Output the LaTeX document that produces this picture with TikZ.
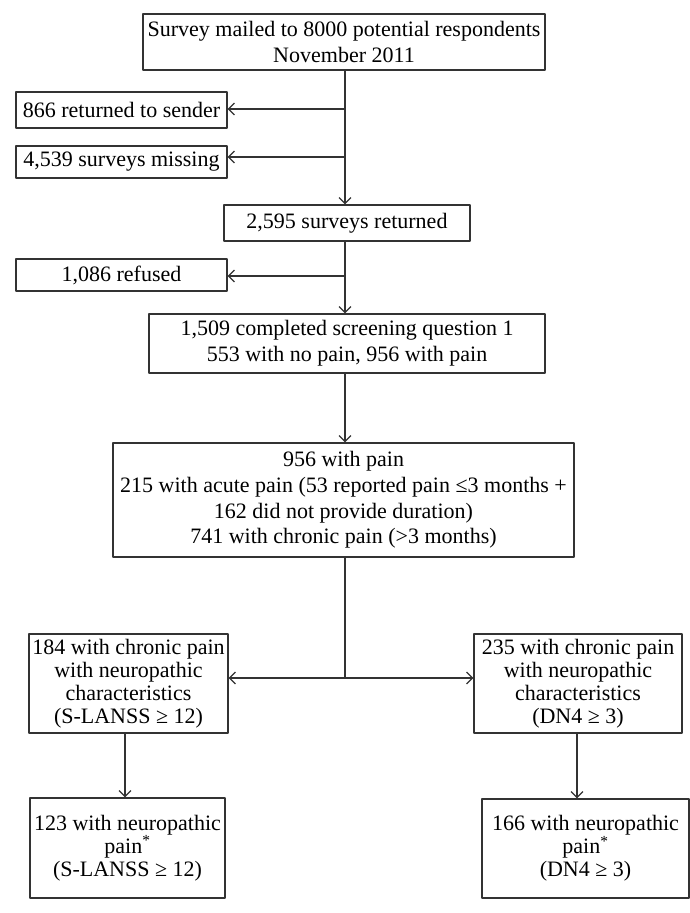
\documentclass[tikz,border=0pt]{standalone}
\usepackage{fontspec}
\setmainfont{Liberation Serif}
\usetikzlibrary{arrows.meta}
\definecolor{linegray}{rgb}{0.2,0.2,0.2}
\tikzset{
	box/.style={draw=linegray,line width=1.2pt,align=center,inner sep=0pt,font=\fontsize{22}{25.7}\selectfont},
	smallbox/.style={box,font=\fontsize{22}{23}\selectfont},
	arr/.style={-{Straight Barb[length=6pt,width=12pt]},line width=1.2pt,color=linegray}
}

\begin{document}
\begin{tikzpicture}[line cap=round,line join=round,x=1pt,y=-1pt]
	\useasboundingbox (0,0) rectangle (690,913);

	\node[box,minimum width=402pt,minimum height=56pt] (mailed) at (344,42) {Survey mailed to 8000 potential respondents\\November 2011};
	\node[box,minimum width=211pt,minimum height=36pt] (sender) at (121.5,110) {866 returned to sender};
	\node[box,minimum width=211pt,minimum height=32pt] (missing) at (121.5,162) {4,539 surveys missing};
	\node[box,minimum width=246pt,minimum height=36pt] (returned) at (347,223) {2,595 surveys returned};
	\node[box,minimum width=211pt,minimum height=32pt] (refused) at (121.5,275) {1,086 refused};
	\node[box,minimum width=396pt,minimum height=59pt] (screened) at (347,343.5) {1,509 completed screening question 1\\553 with no pain, 956 with pain};
	\node[box,minimum width=461pt,minimum height=114pt] (withpain) at (343.5,500) {956 with pain\\215 with acute pain (53 reported pain ≤3 months +\\162 did not provide duration)\\741 with chronic pain (>3 months)};

	\node[smallbox,minimum width=199pt,minimum height=99pt] (lanss) at (128.5,683.5) {184 with chronic pain\\with neuropathic\\characteristics\\(S-LANSS ≥ 12)};
	\node[smallbox,minimum width=208pt,minimum height=99pt] (dnfour) at (578,683.5) {235 with chronic pain\\with neuropathic\\characteristics\\(DN4 ≥ 3)};
	\node[smallbox,minimum width=195pt,minimum height=100pt] (lanssnp) at (127.5,848) {123 with neuropathic\\pain\textsuperscript{*}\\(S-LANSS ≥ 12)};
	\node[smallbox,minimum width=207pt,minimum height=99pt] (dnfournp) at (585.5,848.5) {166 with neuropathic\\pain\textsuperscript{*}\\(DN4 ≥ 3)};

	% main line
	\coordinate (j1) at (345,109);
	\coordinate (j2) at (345,157);
	\coordinate (j3) at (345,276);
	\coordinate (split) at (345,678);

	\draw[arr] (mailed.south -| j1) -- (returned.north -| j1);
	\draw[arr] (j1) -- (j1 -| sender.east);
	\draw[arr] (j2) -- (j2 -| missing.east);
	\draw[arr] (returned.south -| j3) -- (screened.north -| j3);
	\draw[arr] (j3) -- (j3 -| refused.east);
	\draw[arr] (screened.south -| j3) -- (withpain.north -| j3);

	\draw[line width=1.2pt,color=linegray] (withpain.south -| split) -- (split);
	\draw[arr] (split) -- (split -| lanss.east);
	\draw[arr] (split) -- (split -| dnfour.west);

	\draw[arr] (lanss.south -| 125,0) -- (lanssnp.north -| 125,0);
	\draw[arr] (dnfour.south -| 577,0) -- (dnfournp.north -| 577,0);
\end{tikzpicture}
\end{document}
